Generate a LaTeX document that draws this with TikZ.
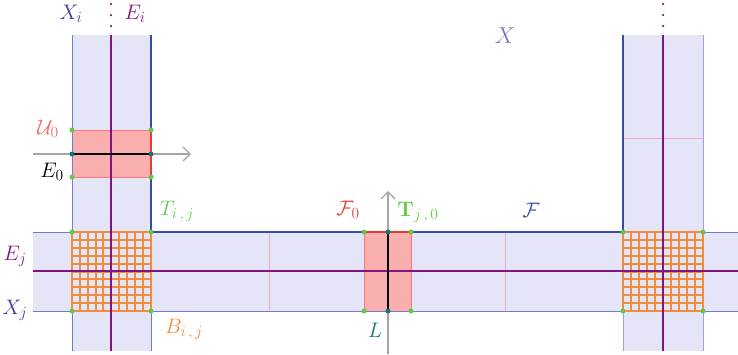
\RequirePackage{fix-cm}
\documentclass[tikz,border=0pt]{standalone}
\usetikzlibrary{arrows.meta}
\DeclareMathSizes{21}{21}{15.5}{11}
\DeclareMathSizes{23}{23}{17}{12}
\definecolor{stripfill}{RGB}{229,229,248}
\definecolor{thinblue}{RGB}{120,120,205}
\definecolor{thickblue}{RGB}{55,75,170}
\definecolor{purp}{RGB}{128,20,128}
\definecolor{redfill}{RGB}{250,175,175}
\definecolor{redline}{RGB}{230,60,50}
\definecolor{greend}{RGB}{100,200,70}
\definecolor{teald}{RGB}{20,120,120}
\definecolor{orangeg}{RGB}{240,140,60}
\definecolor{pinkl}{RGB}{242,170,190}
\definecolor{lblblue}{RGB}{60,60,160}
\definecolor{lblX}{RGB}{120,120,200}
\definecolor{lblred}{RGB}{240,110,110}
\definecolor{lblorange}{RGB}{240,140,50}
\definecolor{lblgreen}{RGB}{100,200,70}
\tikzset{
  thinedge/.style={draw=thinblue,line width=0.9pt},
  thickedge/.style={draw=thickblue,line width=1.6pt},
  centerline/.style={draw=purp,line width=1.6pt},
  gdot/.style={circle,fill=greend,inner sep=0pt,minimum size=5pt},
  tdot/.style={circle,fill=teald,inner sep=0pt,minimum size=5pt},
  pdot/.style={circle,fill=purp,inner sep=0pt,minimum size=2.5pt},
  gridst/.style={draw=orangeg,line width=1.1pt},
  pinkline/.style={draw=pinkl,line width=1pt},
  grayarrow/.style={draw=black!35,line width=1.3pt,-{Straight Barb[length=7pt,width=14pt]}},
  lbl/.style={font=\fontsize{21}{25}\selectfont,inner sep=0pt}
}
\begin{document}
\begin{tikzpicture}[x=1pt,y=-1pt]
\useasboundingbox (0,0) rectangle (738,354);
% strips
\fill[stripfill] (72,35) rectangle (151,351);
\fill[stripfill] (623,35) rectangle (703,351);
\fill[stripfill] (33,232) rectangle (738,311);
% faint pink lines
\draw[pinkline] (269,232) -- (269,311);
\draw[pinkline] (505,232) -- (505,311);
\draw[pinkline] (623,138) -- (703,138);
% red boxes
\fill[redfill] (72,130) rectangle (151,177);
\draw[redfill!70!red,line width=0.6pt] (72,130) rectangle (151,177);
\fill[redfill] (364,232) rectangle (411,311);
\draw[redfill!70!red,line width=0.6pt] (364,232) rectangle (411,311);
% grids
\foreach \gx in {72,80,88,96,103,111,119,127,135,143,151}
  \draw[gridst] (\gx,232) -- (\gx,311);
\foreach \gx in {623,631,639,647,655,663,671,679,687,695,703}
  \draw[gridst] (\gx,232) -- (\gx,311);
\foreach \gy in {232,240,248,256,264,272,279,287,295,303,311}{
  \draw[gridst] (72,\gy) -- (151,\gy);
  \draw[gridst] (623,\gy) -- (703,\gy);
}
% thin edges
\draw[thinedge] (72,35) -- (72,232);
\draw[thinedge] (72,311) -- (72,351);
\draw[thinedge] (151,311) -- (151,351);
\draw[thinedge] (33,232) -- (72,232);
\draw[thinedge] (33,311) -- (72,311);
\draw[thinedge] (151,311) -- (623,311);
\draw[thinedge] (703,311) -- (738,311);
\draw[thinedge] (703,232) -- (738,232);
\draw[thinedge,draw=thinblue!70] (703,35) -- (703,232);
\draw[thinedge,draw=thinblue!70] (703,311) -- (703,351);
\draw[thinedge,draw=thinblue!70] (623,311) -- (623,351);
% thick boundary
\draw[thickedge] (151,35) -- (151,232) -- (623,232) -- (623,35);
% center lines
\draw[centerline] (111,35) -- (111,351);
\draw[centerline] (663,35) -- (663,351);
\draw[centerline] (33,271) -- (738,271);
% red thick edges
\draw[redline,line width=1.6pt] (151,130) -- (151,177);
\draw[redline,line width=1.6pt] (364,232) -- (411,232);
% gray arrows
\coordinate (ha0) at (33,154);
\coordinate (ha1) at (191,154);
\draw[grayarrow] (ha0) -- (ha1);
\coordinate (va0) at (388,354);
\coordinate (va1) at (388,191);
\draw[grayarrow] (va0) -- (va1);
% black lines
\draw[black,line width=1.4pt] (72,154) -- (151,154);
\draw[black,line width=1.4pt] (388,232) -- (388,311);
% dots
\foreach \p in {(72,130),(151,130),(72,177),(151,177),(72,232),(151,232),(72,311),(151,311),(623,232),(703,232),(623,311),(703,311),(364,232),(411,232),(364,311),(411,311)}
  \node[gdot] at \p {};
\foreach \p in {(72,154),(151,154),(388,232),(388,311)}
  \node[tdot] at \p {};
\foreach \y in {4,15,26}{
  \node[pdot] at (111,\y) {};
  \node[pdot] at (663,\y) {};
}
% labels
\node[lbl,text=lblblue] (Xi) at (71,14) {$X_i$};
\node[lbl,text=purp] (Ei) at (135,14) {$E_i$};
\node[lbl,text=lblX,font=\fontsize{23}{27}\selectfont] (X) at (505,36) {$X$};
\node[lbl,text=lblred] (U0) at (48,129) {$\mathcal{U}_0$};
\node[lbl,text=black] (E0) at (52,172) {$E_0$};
\node[lbl,text=lblgreen] (Tij) at (177,211) {$T_{i\,,\,j}$};
\node[lbl,text=lblorange] (Bij) at (184,329) {$B_{i\,,\,j}$};
\node[lbl,text=purp] (Ej) at (15,256) {$E_j$};
\node[lbl,text=lblblue] (Xj) at (15,310) {$X_j$};
\node[lbl,text=redline] (F0) at (348,210) {$\mathcal{F}_0$};
\node[lbl,text=lblgreen] (Tj0) at (418,212) {$\mathbf{T}_{j\,,\,0}$};
\node[lbl,text=thickblue] (F) at (531,210) {$\mathcal{F}$};
\node[lbl,text=teald] (L) at (375,330) {$L$};
\end{tikzpicture}
\end{document}
